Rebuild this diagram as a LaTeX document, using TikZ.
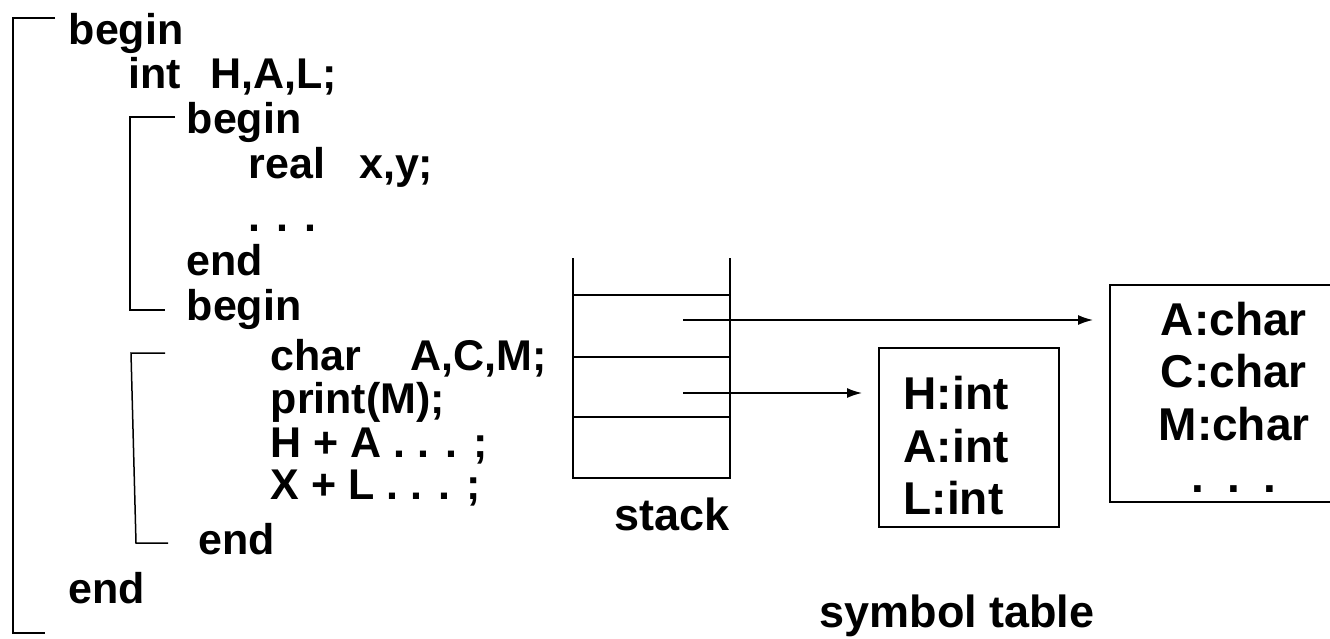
\documentclass[tikz,border=0pt]{standalone}
\usepackage{fontspec}
\setmainfont{Liberation Sans}
\usetikzlibrary{calc}
\usetikzlibrary{positioning}
\usetikzlibrary{arrows.meta}

\begin{document}
\begin{tikzpicture}[x=1pt, y=-1pt, line width=1.5pt,
  code/.style={anchor=base west, inner sep=0pt, font=\bfseries\fontsize{43}{43}\selectfont},
  label/.style={anchor=base, inner sep=0pt, font=\bfseries\fontsize{45}{45}\selectfont},
  table/.style={draw, anchor=north west, inner ysep=0pt, font=\bfseries\fontsize{46}{52.5}\selectfont},
  link/.style={-{Latex[length=15pt, width=10pt]}, shorten >=16pt}]
\useasboundingbox (0,0) rectangle (1330,638);

% the program
\node (outer begin) [code] at (68,44) {begin};
\node (int decl) [code] at (128,88) {int\hspace*{29pt}H,A,L;};
\node (first begin) [code] at (186,133) {begin};
\node (real decl) [code] at (248,178) {real\hspace*{34pt}x,y;};
\node (first dots) [code] at (248,231) {. . .};
\node (first end) [code] at (186,275) {end};
\node (second begin) [code] at (186,320) {begin};
\node (char decl) [code] at (270,370) {char\hspace*{49pt}A,C,M;};
\node (print call) [code] at (270,413) {print(M);};
\node (first sum) [code] at (270,457) {H + A . . . ;};
\node (second sum) [code] at (270,499) {X + L . . . ;};
\node (second end) [code] at (198,554) {end};
\node (outer end) [code] at (68,603) {end};

% block brackets
\draw (55,18) -- (13,18) -- (13,633) -- (45,633);
\draw (175,117) -- (130,117) -- (130,310) -- (165,310);
\draw (165,353) -- (131,353) -- (136,543) -- (168,543);

% the stack
\draw (573,258) -- (573,478) -- (730,478) -- (730,258);
\draw (573,295) -- (730,295);
\draw (573,357) -- (730,357);
\draw (573,417) -- (730,417);
\coordinate (top slot) at (683,320);
\coordinate (middle slot) at (683,393);
\node (stack label) [label] at (672,530) {stack};

% symbol tables
\node (int table) [table, text width=130pt, inner xsep=25pt, minimum height=179pt, align=left] at (878,347) {\rule{0pt}{50pt}H:int\\A:int\\L:int};
\node (char table) [table, text width=150pt, inner xsep=49pt, minimum height=217pt, align=center] at (1109,284) {\rule{0pt}{41pt}A:char\\C:char\\M:char\\. . .};
\node (symbol label) [label] at (957,627) {symbol table};

\draw [link] (top slot) -- (top slot -| char table.west);
\draw [link] (middle slot) -- (middle slot -| int table.west);

\end{tikzpicture}
\end{document}
